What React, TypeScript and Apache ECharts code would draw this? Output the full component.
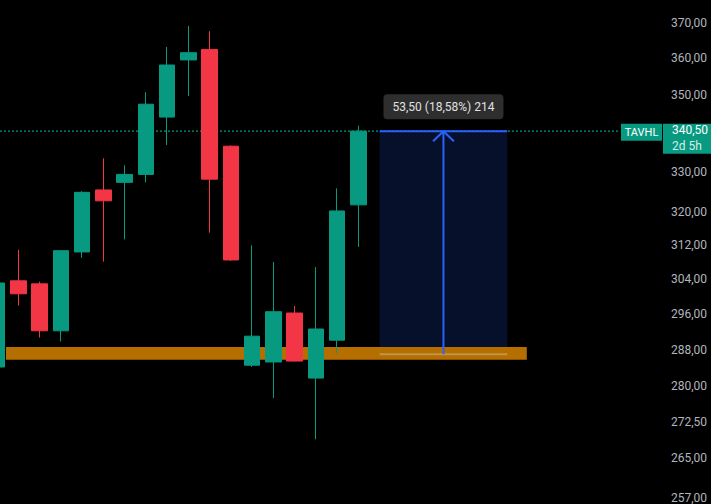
import React, { useEffect, useRef } from "react";
import * as echarts from "echarts";

// candle slots (x index), OHLC
const slots = [0, 1, 2, 3, 4, 5, 6, 7, 8, 9, 10, 11, 12, 13, 14, 15, 16, 17];
const opens = [284.2, 303.6, 302.9, 292.2, 310.4, 325.5, 327.4, 329.4, 344.2, 359.6, 362.5, 336.6, 284.6, 285.3, 296.2, 281.8, 290.1, 321.8];
const closes = [303.1, 300.6, 292.2, 310.7, 324.9, 322.8, 329.4, 347.6, 358.2, 361.6, 328.2, 308.5, 291.0, 296.5, 285.5, 292.6, 320.3, 340.5];
const lows = [283.8, 297.9, 290.7, 289.8, 309.0, 308.1, 313.4, 327.4, 336.9, 349.8, 315.0, 308.3, 284.2, 277.5, 285.4, 268.9, 287.2, 311.6];
const highs = [303.5, 310.9, 303.4, 310.8, 325.2, 333.5, 331.7, 350.8, 363.2, 369.1, 367.6, 336.8, 312.0, 308.0, 297.8, 306.8, 325.9, 341.9];

// price axis tick labels
const tickValues = [370, 360, 350, 330, 320, 312, 304, 296, 288, 280, 272.5, 265, 257];

// view extents
const xMin = 0.1411;
const xMax = 29.304;
const yMin = 255.88;
const yMax = 376.5;

// support band and projection
const bandLow = 285.8;
const bandHigh = 288.6;
const bandStart = 0.42;
const bandEnd = 24.92;
const projStart = 18;
const projEnd = 24;
const projMid = 21;
const projBase = 287.0;
const lastPrice = 340.5;
const arrowWing = 337.9;
const projLabel = "53,50 (18,58%) 214";
const symbol = "TAVHL";
const countdown = "2d 5h";

const GREEN = "#089981";
const RED = "#F23645";
const BLUE = "#2962FF";

const fmt = (v: number) => v.toFixed(2).replace(".", ",");

export default function App() {
  const ref = useRef<HTMLDivElement>(null);
  useEffect(() => {
    document.body.style.margin = "0";
    document.body.style.background = "#000";
    const chart = echarts.init(ref.current!, undefined, { renderer: "svg" });
    const candleData = slots.map((s, i) => [s, opens[i], closes[i], lows[i], highs[i]]);
    chart.setOption({
      animation: false,
      backgroundColor: "#000000",
      grid: { left: 0, right: 91, top: 0, bottom: 0 },
      xAxis: { type: "value", min: xMin, max: xMax, show: false },
      yAxis: { type: "log", logBase: 10, min: yMin, max: yMax, show: false },
      series: [
        {
          type: "line",
          data: [],
          z: 1,
          markArea: {
            silent: true,
            z: 1,
            itemStyle: { color: "#07102A" },
            data: [[{ coord: [projStart, projBase] }, { coord: [projEnd, lastPrice] }]],
          },
        },
        {
          type: "line",
          data: [],
          z: 2,
          markArea: {
            silent: true,
            z: 2,
            itemStyle: { color: "#B46F00" },
            data: [[{ coord: [bandStart, bandHigh] }, { coord: [bandEnd, bandLow] }]],
          },
        },
        {
          type: "line",
          z: 3,
          symbol: "none",
          lineStyle: { color: "rgba(220,220,220,0.35)", width: 2 },
          data: [[projStart, projBase], [projEnd, projBase]],
        },
        {
          type: "line",
          z: 4,
          symbol: "none",
          silent: true,
          lineStyle: { color: GREEN, type: [2, 2], width: 1.2 },
          data: [[xMin, lastPrice], [xMax, lastPrice]],
        },
        {
          type: "candlestick",
          z: 5,
          barWidth: 16,
          encode: { x: 0, y: [1, 2, 3, 4] },
          itemStyle: {
            color: GREEN,
            color0: RED,
            borderColor: GREEN,
            borderColor0: RED,
            borderWidth: 1,
          },
          data: candleData,
        },
        {
          type: "line",
          z: 6,
          symbol: "none",
          lineStyle: { color: BLUE, width: 2 },
          data: [[projStart, lastPrice], [projEnd, lastPrice]],
        },
        {
          type: "line",
          z: 6,
          symbol: "none",
          lineStyle: { color: BLUE, width: 2 },
          data: [[projMid, projBase], [projMid, lastPrice]],
        },
        {
          type: "line",
          z: 6,
          symbol: "none",
          lineStyle: { color: BLUE, width: 2 },
          data: [[projMid - 0.49, arrowWing], [projMid, lastPrice], [projMid + 0.49, arrowWing]],
        },
      ],
    });

    const yPix = (v: number) => chart.convertToPixel({ yAxisIndex: 0 }, v) as number;
    const xPix = (v: number) => chart.convertToPixel({ xAxisIndex: 0 }, v) as number;
    const py = yPix(lastPrice);
    const mx = xPix(projMid);
    const graphics: any[] = tickValues.map((v) => ({
      type: "text",
      x: 707,
      y: yPix(v),
      style: {
        text: fmt(v),
        fill: "#B2B5BE",
        font: "12px Roboto",
        textAlign: "right",
        textVerticalAlign: "middle",
      },
    }));
    graphics.push(
      { type: "rect", shape: { x: 621, y: py - 7.5, width: 41, height: 17 }, style: { fill: GREEN } },
      {
        type: "text",
        x: 641.5,
        y: py + 1,
        style: { text: symbol, fill: "#FFFFFF", font: "11px Roboto", textAlign: "center", textVerticalAlign: "middle" },
      },
      { type: "rect", shape: { x: 663, y: py - 7.5, width: 48, height: 30 }, style: { fill: GREEN } },
      {
        type: "text",
        x: 672,
        y: py - 1.5,
        style: { text: fmt(lastPrice), fill: "#FFFFFF", font: "12px Roboto", textAlign: "left", textVerticalAlign: "middle" },
      },
      {
        type: "text",
        x: 672,
        y: py + 14.5,
        style: { text: countdown, fill: "#D4EEE9", font: "12px Roboto", textAlign: "left", textVerticalAlign: "middle" },
      },
      {
        type: "rect",
        shape: { x: mx - 60, y: py - 37, width: 120, height: 25, r: 4 },
        style: { fill: "#2E2E2E" },
      },
      {
        type: "text",
        x: mx,
        y: py - 24.5,
        style: { text: projLabel, fill: "#E0E0E0", font: "12px Roboto", textAlign: "center", textVerticalAlign: "middle" },
      }
    );
    chart.setOption({ graphic: graphics });
    return () => chart.dispose();
  }, []);
  return (
    <div
      ref={ref}
      style={{ position: "fixed", left: 0, top: 0, width: 711, height: 504, background: "#000" }}
    />
  );
}
